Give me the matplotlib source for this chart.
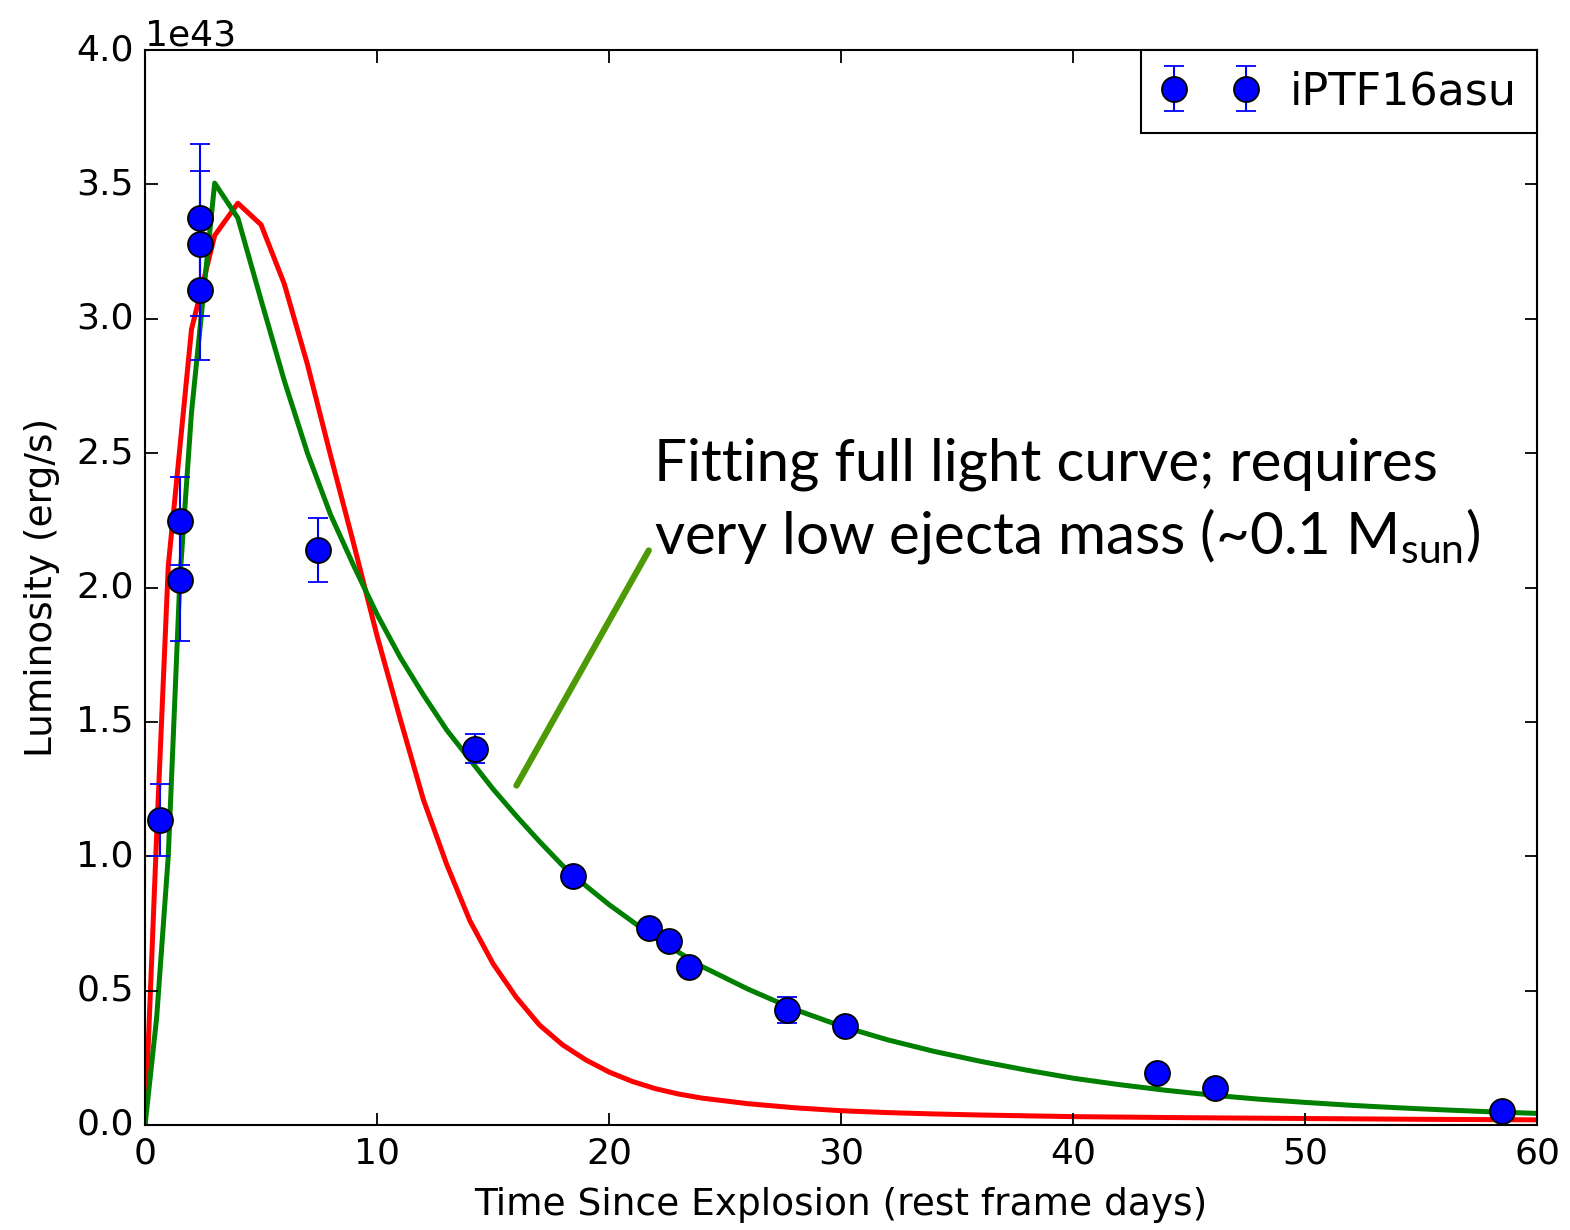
import matplotlib
matplotlib.use("Agg")
import matplotlib.pyplot as plt
import numpy as np

plt.style.use("classic")

# observed points (days, 1e43 erg/s)
obs_t = [0.65, 1.51, 1.51, 2.37, 2.37, 2.37, 7.46, 14.22, 18.45, 21.72, 22.59,
         23.45, 27.67, 30.17, 43.62, 46.12, 58.49]
obs_L = [1.135, 2.247, 2.028, 3.375, 3.28, 3.107, 2.14, 1.40, 0.927, 0.733, 0.685,
         0.588, 0.428, 0.368, 0.193, 0.138, 0.052]
obs_err = [0.135, 0.165, 0.227, 0.275, 0.27, 0.26, 0.12, 0.054, 0.02, 0.02, 0.02,
           0.02, 0.05, 0.02, 0.02, 0.02, 0.02]

# model fits
green_t = [0, 0.5, 1, 1.5, 2, 3, 4, 5, 6, 7, 8, 9, 10, 11, 12, 13, 14, 15, 16, 17,
           18, 19, 20, 22, 24, 26, 28, 30, 32, 34, 36, 38, 40, 42, 44, 46, 48, 50,
           52, 54, 56, 58, 60]
green_L = [0, 0.4, 1.0, 2.03, 2.65, 3.505, 3.375, 3.07, 2.77, 2.50, 2.27, 2.08,
           1.90, 1.74, 1.60, 1.47, 1.36, 1.25, 1.15, 1.055, 0.965, 0.89, 0.82, 0.695,
           0.59, 0.505, 0.43, 0.368, 0.317, 0.274, 0.237, 0.204, 0.174, 0.15, 0.129,
           0.111, 0.096, 0.084, 0.073, 0.064, 0.056, 0.049, 0.043]

red_t = [0, 0.5, 1, 2, 3, 4, 5, 6, 7, 8, 9, 10, 11, 12, 13, 14, 15, 16, 17, 18, 19,
         20, 21, 22, 23, 24, 26, 28, 30, 32, 34, 36, 38, 40, 45, 50, 55, 60]
red_L = [0, 1.08, 2.08, 2.96, 3.31, 3.43, 3.35, 3.13, 2.83, 2.49, 2.16, 1.82, 1.51,
         1.21, 0.97, 0.76, 0.60, 0.475, 0.372, 0.298, 0.242, 0.197, 0.162, 0.135,
         0.115, 0.10, 0.079, 0.064, 0.053, 0.046, 0.041, 0.037, 0.034, 0.031, 0.027,
         0.024, 0.021, 0.019]

scale = 1e43

fig = plt.figure(figsize=(15.7, 12.3), dpi=100, facecolor="white")
ax = fig.add_axes([0.0924, 0.0854, 0.8866, 0.8739])
ax.set_facecolor("white")

ax.plot(red_t, np.array(red_L) * scale, color="red", lw=3.6, zorder=2)
ax.plot(green_t, np.array(green_L) * scale, color="green", lw=3.6, zorder=2)
ax.errorbar(obs_t, np.array(obs_L) * scale, yerr=np.array(obs_err) * scale,
            fmt="o", color="blue", ms=18, mec="k", mew=1.3, elinewidth=1.5,
            capsize=7, capthick=1.5, label="iPTF16asu", zorder=3)

ax.set_xlim(0, 60)
ax.set_ylim(0, 4e43)
ax.set_xticks([0, 10, 20, 30, 40, 50, 60])
ax.set_yticks(np.arange(0, 4.01, 0.5) * scale)
ax.tick_params(labelsize=26, length=9, width=1.3, direction="in", pad=8,
               top=True, right=True)
ax.yaxis.get_offset_text().set_fontsize(26)
for s in ax.spines.values():
    s.set_linewidth(1.5)

ax.set_xlabel("Time Since Explosion (rest frame days)", fontsize=27, labelpad=12)
ax.set_ylabel("Luminosity (erg/s)", fontsize=27, labelpad=12)

leg = ax.legend(loc="upper right", numpoints=2, fontsize=32, borderpad=0.45,
                handlelength=2.2, handletextpad=0.7, borderaxespad=0.0,
                frameon=True, fancybox=False)
leg.get_frame().set_linewidth(1.5)
leg.get_frame().set_edgecolor("black")

# slide annotation
plt.rcParams["mathtext.fontset"] = "custom"
plt.rcParams["mathtext.rm"] = "Lato"
note_font = ["Lato", "DejaVu Sans"]
ax.text(0.3655, 0.60, "Fitting full light curve; requires", transform=ax.transAxes,
        fontsize=42, family=note_font, ha="left", va="baseline")
ax.text(0.3655, 0.532, r"very low ejecta mass (~0.1 M$_{\mathrm{sun}}$)",
        transform=ax.transAxes, fontsize=42, family=note_font, ha="left", va="baseline")
ax.annotate("", xy=(15.95, 1.254e43), xytext=(21.77, 2.147e43),
            arrowprops=dict(arrowstyle="-", color="#4e9a06", lw=4.5))

fig.savefig("out.png", dpi=100, facecolor="white")
